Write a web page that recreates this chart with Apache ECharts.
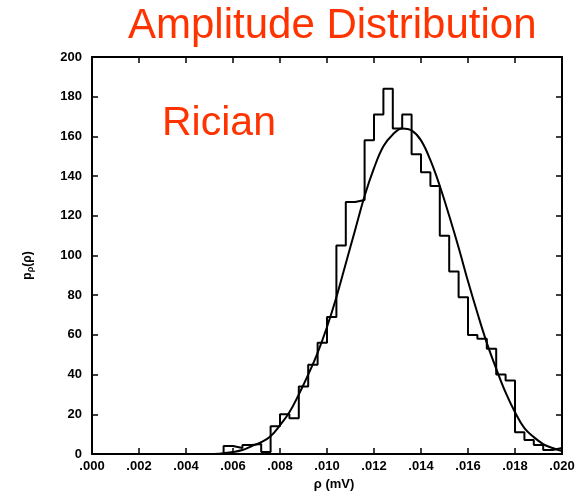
<!DOCTYPE html>
<html>
<head>
<meta charset="utf-8">
<script src="https://cdn.jsdelivr.net/npm/echarts@6/dist/echarts.min.js"></script>
<style>
  html, body { margin: 0; padding: 0; background: #fff; }
  #chart { width: 581px; height: 501px; }
</style>
</head>
<body>
<div id="chart"></div>
<script>
var myChart = echarts.init(document.getElementById('chart'));

// histogram: left edge of each bin (mV) and its height
var binEdges = [0.0056, 0.0060, 0.0064, 0.0068, 0.0072, 0.0076, 0.0080, 0.0084, 0.0088, 0.0092,
                0.0096, 0.0100, 0.0104, 0.0108, 0.0112, 0.0116, 0.0120, 0.0124, 0.0128, 0.0132,
                0.0136, 0.0140, 0.0144, 0.0148, 0.0152, 0.0156, 0.0160, 0.0164, 0.0168, 0.0172,
                0.0176, 0.0180, 0.0184, 0.0188, 0.0192, 0.0196];
var binCounts = [4, 3, 4.5, 5, 1, 14, 20, 18, 34, 45,
                 56, 69, 105, 127, 128, 158, 171, 184, 164, 171,
                 151, 142, 135, 110, 92, 79, 60, 58, 53, 40,
                 37, 11, 7, 4.5, 2, 3];
var binEnd = 0.0200;

// fitted rician curve
var curveX = [0.0052, 0.0056, 0.0060, 0.0064, 0.0068, 0.0072, 0.0076, 0.0080, 0.0084, 0.0088,
              0.0092, 0.0096, 0.0100, 0.0104, 0.0108, 0.0112, 0.0116, 0.0120, 0.0124, 0.0128,
              0.0132, 0.0136, 0.0140, 0.0144, 0.0148, 0.0152, 0.0156, 0.0160, 0.0164, 0.0168,
              0.0172, 0.0176, 0.0180, 0.0184, 0.0188, 0.0192, 0.0196, 0.0200];
var curveY = [0, 0.4, 1, 2, 4, 6, 9, 14.5, 21, 30,
              40, 51, 64, 79, 96, 113, 130, 144, 155, 161,
              164, 163, 158, 148, 135, 120, 104, 87, 71, 56,
              43, 31, 21, 13, 8.5, 5, 3, 1.5];

var histData = [[binEdges[0], 0]];
for (var i = 0; i < binEdges.length; i++) {
    histData.push([binEdges[i], binCounts[i]]);
}
histData.push([binEnd, binCounts[binCounts.length - 1]]);
histData.push([binEnd, 0]);

var curveData = curveX.map(function (x, i) { return [x, curveY[i]]; });

var labelFont = {
    color: '#000',
    fontSize: 13,
    fontWeight: 'bold',
    fontFamily: 'Liberation Sans'
};
var axisLine = { show: true, onZero: false, lineStyle: { color: '#000', width: 2 } };
var axisTick = { show: true, inside: true, length: 6, lineStyle: { color: '#000', width: 1.5 } };

var option = {
    backgroundColor: '#fff',
    animation: false,
    title: [{
        text: 'Amplitude Distribution',
        left: 128,
        top: 5,
        padding: 0,
        textStyle: { color: '#ff3300', fontSize: 42, fontWeight: 'normal', fontFamily: 'Liberation Sans' }
    }, {
        text: 'Rician',
        left: 162,
        top: 103,
        padding: 0,
        textStyle: { color: '#ff3300', fontSize: 41, fontWeight: 'normal', fontFamily: 'Liberation Sans' }
    }],
    grid: { left: 92, right: 19, top: 57, bottom: 47 },
    xAxis: [{
        type: 'value',
        min: 0,
        max: 0.02,
        interval: 0.002,
        name: 'ρ (mV)',
        nameLocation: 'middle',
        nameGap: 24,
        nameTextStyle: { color: '#000', fontSize: 13, fontWeight: 'bold', fontFamily: 'Liberation Sans', padding: [0, 0, 0, 14] },
        axisLine: axisLine,
        axisTick: axisTick,
        splitLine: { show: false },
        axisLabel: Object.assign({
            margin: 6,
            formatter: function (v) { return v.toFixed(3).replace(/^0/, ''); }
        }, labelFont)
    }, {
        type: 'value',
        position: 'top',
        min: 0,
        max: 0.02,
        interval: 0.002,
        axisLine: axisLine,
        axisTick: axisTick,
        splitLine: { show: false },
        axisLabel: { show: false }
    }],
    yAxis: [{
        type: 'value',
        min: 0,
        max: 200,
        interval: 20,
        name: '{p|p}{s|ρ}{p|(ρ)}',
        nameLocation: 'middle',
        nameGap: 57,
        nameTextStyle: {
            padding: [0, 0, 0, -20],
            rich: {
                p: { fontSize: 12, fontWeight: 'bold', fontFamily: 'Liberation Sans', color: '#000' },
                s: { fontSize: 9, fontWeight: 'bold', fontFamily: 'Liberation Sans', color: '#000', padding: [5, 0, 0, 0] }
            }
        },
        axisLine: axisLine,
        axisTick: axisTick,
        splitLine: { show: false },
        axisLabel: Object.assign({ margin: 10 }, labelFont)
    }, {
        type: 'value',
        position: 'right',
        min: 0,
        max: 200,
        interval: 20,
        axisLine: axisLine,
        axisTick: axisTick,
        splitLine: { show: false },
        axisLabel: { show: false }
    }],
    series: [{
        name: 'histogram',
        type: 'line',
        step: 'end',
        data: histData,
        symbol: 'none',
        lineStyle: { color: '#000', width: 2 }
    }, {
        name: 'rician',
        type: 'line',
        smooth: 0.4,
        data: curveData,
        symbol: 'none',
        lineStyle: { color: '#000', width: 2 }
    }]
};

myChart.setOption(option);
</script>
</body>
</html>
